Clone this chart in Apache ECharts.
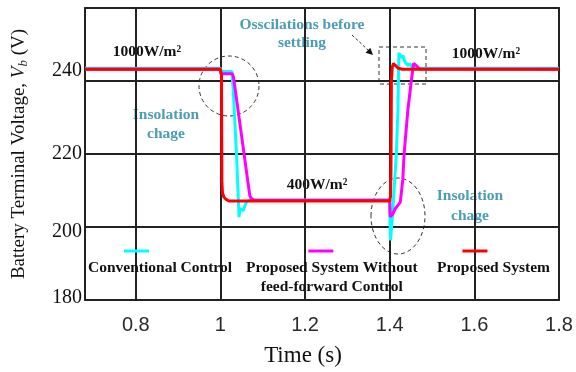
<!DOCTYPE html>
<html>
<head>
<meta charset="utf-8">
<script src="https://cdn.jsdelivr.net/npm/echarts@6/dist/echarts.min.js"></script>
<style>
    html, body { margin: 0; padding: 0; background: #fff; }
    #chart { width: 576px; height: 372px; }
</style>
</head>
<body>
<div id="chart"></div>
<script>
    // time (s) and battery voltage (V)
    var tCyan = [0.68, 1.0, 1.0025, 1.027, 1.030, 1.038, 1.044, 1.046, 1.050, 1.054, 1.058, 1.062, 1.07,
        1.4, 1.401, 1.402, 1.4076, 1.4156, 1.4194, 1.4218, 1.4251, 1.4281, 1.4312, 1.4345, 1.4376, 1.4399,
        1.4439, 1.447, 1.4534, 1.4628, 1.8];
    var vCyan = [243.5, 243.5, 242.6, 242.6, 238, 220, 202.7, 205, 205.5, 204.5, 205.8, 207, 207.4,
        207.4, 200, 196.3, 205, 220, 232.2, 247.7, 247.9, 246.3, 247.0, 245.7, 245.0, 245.4,
        244.2, 244.8, 243.6, 243.5, 243.5];
    var tMagenta = [0.68, 1.0, 1.0015, 1.028, 1.031, 1.0694, 1.073, 1.08, 1.4, 1.401, 1.407, 1.413,
        1.425, 1.431, 1.434, 1.443, 1.451, 1.4564, 1.462, 1.4707, 1.8];
    var vMagenta = [243.2, 243.2, 242.0, 242.0, 241.0, 208.6, 207.8, 207.3, 207.3, 202.8, 203.5, 205,
        206.8, 213.1, 220, 232.2, 240, 244.8, 244.3, 243.3, 243.2];
    var tRed = [0.68, 1.0, 1.0025, 1.0035, 1.005, 1.008, 1.013, 1.02, 1.4, 1.402, 1.403, 1.404,
        1.406, 1.409, 1.414, 1.42, 1.43, 1.8];
    var vRed = [243.2, 243.2, 241.5, 212, 209.3, 208.2, 207.6, 207.1, 207.1, 208.5, 216, 240,
        243.8, 244.8, 244.2, 243.5, 243.2, 243.2];
    var xTicks = [0.8, 1, 1.2, 1.4, 1.6, 1.8];
    var yTicks = [180, 200, 220, 240];
    var seriesNames = ['Conventional Control', 'Proposed System Without feed-forward Control', 'Proposed System'];

    var serif = '"Liberation Serif", "Times New Roman", serif';
    var teal = '#4a9db5';

    function zip(t, v) {
        var out = [];
        for (var i = 0; i < t.length; i++) { out.push([t[i], v[i]]); }
        return out;
    }

    function legendBox(name, color, left, gap, label) {
        return {
            data: [name],
            left: left,
            top: 245,
            padding: 0,
            icon: 'rect',
            itemWidth: 0,
            itemHeight: 0,
            selectedMode: false,
            formatter: function () { return '{s| }{g| }\n' + label; },
            textStyle: {
                rich: {
                    s: { width: 25, height: 3, lineHeight: 16, backgroundColor: color, align: 'center' },
                    g: { width: gap, lineHeight: 16, align: 'center' },
                    t: { fontFamily: serif, fontWeight: 'bold', fontSize: 15.5, color: '#111', lineHeight: 18.5, align: 'center' }
                }
            }
        };
    }

    function note(text, x, y, color, lh) {
        return {
            type: 'text',
            style: {
                text: text, x: x, y: y, align: 'center', verticalAlign: 'middle',
                fontFamily: serif, fontWeight: 'bold', fontSize: 15.5, fill: color, lineHeight: lh || 19
            }
        };
    }

    var chart = echarts.init(document.getElementById('chart'));
    chart.setOption({
        animation: false,
        grid: { left: 85, right: 17, top: 8, bottom: 71, show: true, borderColor: '#333', borderWidth: 2 },
        xAxis: {
            type: 'value', min: 0.68, max: 1.8, splitNumber: 5,
            axisLine: { show: false }, axisTick: { show: false },
            splitLine: { show: true, lineStyle: { color: '#222', width: 2 } },
            axisLabel: {
                margin: 15, fontFamily: '"Liberation Sans", Arial, sans-serif', fontSize: 20, color: '#2a2a2a',
                formatter: function (v) {
                    for (var i = 0; i < xTicks.length; i++) {
                        if (Math.abs(v - xTicks[i]) < 1e-6) { return String(xTicks[i]); }
                    }
                    return '';
                }
            },
            name: 'Time (s)', nameLocation: 'middle', nameGap: 44,
            nameTextStyle: { fontFamily: serif, fontSize: 23, color: '#111', padding: [0, 38, 0, 0] }
        },
        yAxis: {
            type: 'value', min: 180, max: 260, interval: 20,
            axisLine: { show: false }, axisTick: { show: false },
            splitLine: { show: true, lineStyle: { color: '#222', width: 2 } },
            axisLabel: {
                margin: 3, fontFamily: serif, fontSize: 20, color: '#111',
                formatter: function (v) {
                    if (yTicks.indexOf(v) < 0) { return ''; }
                    if (v === 240) { return '{a|240}'; }
                    if (v === 200) { return '{b|200}'; }
                    if (v === 180) { return '{c|180}'; }
                    return '{n|' + v + '}';
                },
                rich: {
                    a: { fontFamily: serif, fontSize: 20, color: '#111', padding: [0, 0, 20, 0] },
                    b: { fontFamily: serif, fontSize: 20, color: '#111', padding: [9, 0, 0, 0] },
                    c: { fontFamily: serif, fontSize: 20, color: '#111', padding: [0, 0, 4, 0] },
                    n: { fontFamily: serif, fontSize: 20, color: '#111' }
                }
            },
            name: 'Battery Terminal Voltage, {i|V}{sub|b} (V)', nameLocation: 'middle', nameGap: 55,
            nameTextStyle: {
                fontFamily: serif, fontSize: 19, color: '#111',
                rich: {
                    i: { fontFamily: serif, fontSize: 19, fontStyle: 'italic', color: '#111' },
                    sub: { fontFamily: serif, fontSize: 13, fontStyle: 'italic', color: '#111', padding: [9, 0, 0, 0] }
                }
            }
        },
        legend: [
            legendBox(seriesNames[0], '#00ffff', 83, 47, '{t|Conventional Control}'),
            legendBox(seriesNames[1], '#ff00ff', 241, 22, '{t|Proposed System Without}\n{t|feed-forward Control}'),
            legendBox(seriesNames[2], '#ff0000', 432, 37, '{t|Proposed System}')
        ],
        series: [
            { name: seriesNames[0], type: 'line', data: zip(tCyan, vCyan), showSymbol: false, z: 3,
              lineStyle: { color: '#00ffff', width: 3 }, itemStyle: { color: '#00ffff' } },
            { name: seriesNames[1], type: 'line', data: zip(tMagenta, vMagenta), showSymbol: false, z: 4,
              lineStyle: { color: '#ff00ff', width: 3 }, itemStyle: { color: '#ff00ff' } },
            { name: seriesNames[2], type: 'line', data: zip(tRed, vRed), showSymbol: false, z: 5,
              lineStyle: { color: '#ff0000', width: 3 }, itemStyle: { color: '#ff0000' } }
        ],
        graphic: [
            note('1000W/m²', 147, 52, '#111'),
            note('1000W/m²', 486, 54, '#111'),
            note('400W/m²', 317, 185, '#111'),
            note('Insolation\nchage', 166, 124, teal, 19),
            note('Osscilations before\nsettling', 302, 34, teal, 18.5),
            note('Insolation\nchage', 470, 206, teal, 19.3),
            { type: 'circle', shape: { cx: 229, cy: 86, r: 30 },
              style: { fill: 'none', stroke: '#333', lineWidth: 1, lineDash: [4, 3] } },
            { type: 'ellipse', shape: { cx: 398, cy: 216, rx: 27, ry: 38 },
              style: { fill: 'none', stroke: '#333', lineWidth: 1, lineDash: [4, 3] } },
            { type: 'rect', shape: { x: 379, y: 47, width: 47, height: 37 },
              style: { fill: 'none', stroke: '#333', lineWidth: 1, lineDash: [4, 3] } },
            { type: 'line', shape: { x1: 352, y1: 35, x2: 368, y2: 50 },
              style: { stroke: '#333', lineWidth: 1, lineDash: [3, 2] } },
            { type: 'polygon', shape: { points: [[373, 55], [365.5, 52.7], [370.3, 47.7]] },
              style: { fill: '#111' } }
        ]
    });
</script>
</body>
</html>
